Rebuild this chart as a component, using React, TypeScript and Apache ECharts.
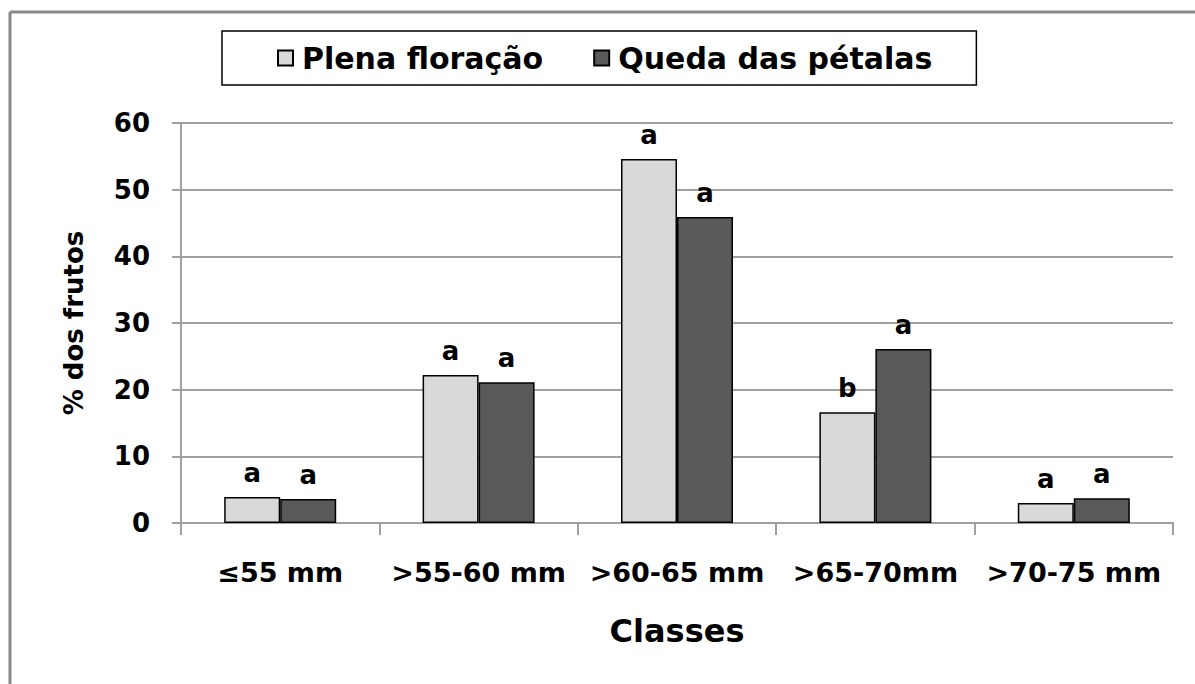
import React, { useEffect, useRef } from "react";
import * as echarts from "echarts";

const categories = ["≤55 mm", ">55-60 mm", ">60-65 mm", ">65-70mm", ">70-75 mm"];
const plenaValues = [3.9, 22.2, 54.6, 16.6, 3.0];
const quedaValues = [3.6, 21.1, 45.9, 26.1, 3.7];
const plenaLetters = ["a", "a", "a", "b", "a"];
const quedaLetters = ["a", "a", "a", "a", "a"];
const seriesNames = ["Plena floração", "Queda das pétalas"];

const FONT = "'DejaVu Sans', 'Liberation Sans', Arial, sans-serif";

export default function App() {
  const ref = useRef<HTMLDivElement>(null);
  useEffect(() => {
    if (!ref.current) return;
    const chart = echarts.init(ref.current, undefined, { renderer: "svg" });
    const grayLine = { color: "#a0a0a0", width: 2 };
    const labelStyle = (letters: string[]) => ({
      show: true,
      position: "top",
      distance: 11,
      fontFamily: FONT,
      fontWeight: "bold",
      fontSize: 26,
      color: "#000",
      formatter: (p: any) => letters[p.dataIndex],
    });
    chart.setOption({
      animation: false,
      backgroundColor: "#fff",
      textStyle: { fontFamily: FONT },
      legend: {
        left: 222,
        top: 31,
        padding: [12, 44, 12, 55],
        itemGap: 50,
        itemWidth: 15,
        itemHeight: 15,
        borderColor: "#000",
        borderWidth: 1.5,
        icon: "rect",
        textStyle: { fontFamily: FONT, fontWeight: "bold", fontSize: 30, color: "#000", padding: [0, 0, 0, 4] },
        data: seriesNames,
      },
      grid: { left: 181, right: 22, top: 123, bottom: 161, containLabel: false },
      xAxis: {
        type: "category",
        data: categories,
        axisLine: { show: true, lineStyle: grayLine },
        axisTick: { show: true, interval: 0, length: 12, lineStyle: grayLine },
        axisLabel: { interval: 0, hideOverlap: false, fontFamily: FONT, fontWeight: "bold", fontSize: 27, color: "#000", margin: 36 },
        name: "Classes",
        nameLocation: "middle",
        nameGap: 92,
        nameTextStyle: { fontFamily: FONT, fontWeight: "bold", fontSize: 32, color: "#000" },
      },
      yAxis: {
        type: "value",
        min: 0,
        max: 60,
        interval: 10,
        axisLine: { show: true, lineStyle: grayLine },
        axisTick: { show: true, length: 9, lineStyle: grayLine },
        splitLine: { show: true, lineStyle: grayLine },
        axisLabel: { fontFamily: FONT, fontWeight: "bold", fontSize: 26, color: "#000", margin: 31 },
        name: "% dos frutos",
        nameLocation: "middle",
        nameRotate: 90,
        nameGap: 94,
        nameTextStyle: { fontFamily: FONT, fontWeight: "bold", fontSize: 26, color: "#000" },
      },
      series: [
        {
          name: seriesNames[0],
          type: "bar",
          data: plenaValues,
          barWidth: 56,
          barGap: "0%",
          itemStyle: { color: "#d9d9d9", borderColor: "#000", borderWidth: 1.5 },
          label: labelStyle(plenaLetters),
        },
        {
          name: seriesNames[1],
          type: "bar",
          data: quedaValues,
          barWidth: 56,
          barGap: "0%",
          itemStyle: { color: "#595959", borderColor: "#000", borderWidth: 1.5 },
          label: labelStyle(quedaLetters),
        },
      ],
      graphic: [
        { type: "line", shape: { x1: 10, y1: 12, x2: 1195, y2: 12 }, style: { stroke: "#888", lineWidth: 3 } },
        { type: "line", shape: { x1: 10, y1: 12, x2: 10, y2: 684 }, style: { stroke: "#888", lineWidth: 3 } },
      ],
    });
    return () => chart.dispose();
  }, []);
  return <div ref={ref} style={{ position: "fixed", left: 0, top: 0, width: 1195, height: 684 }} />;
}
